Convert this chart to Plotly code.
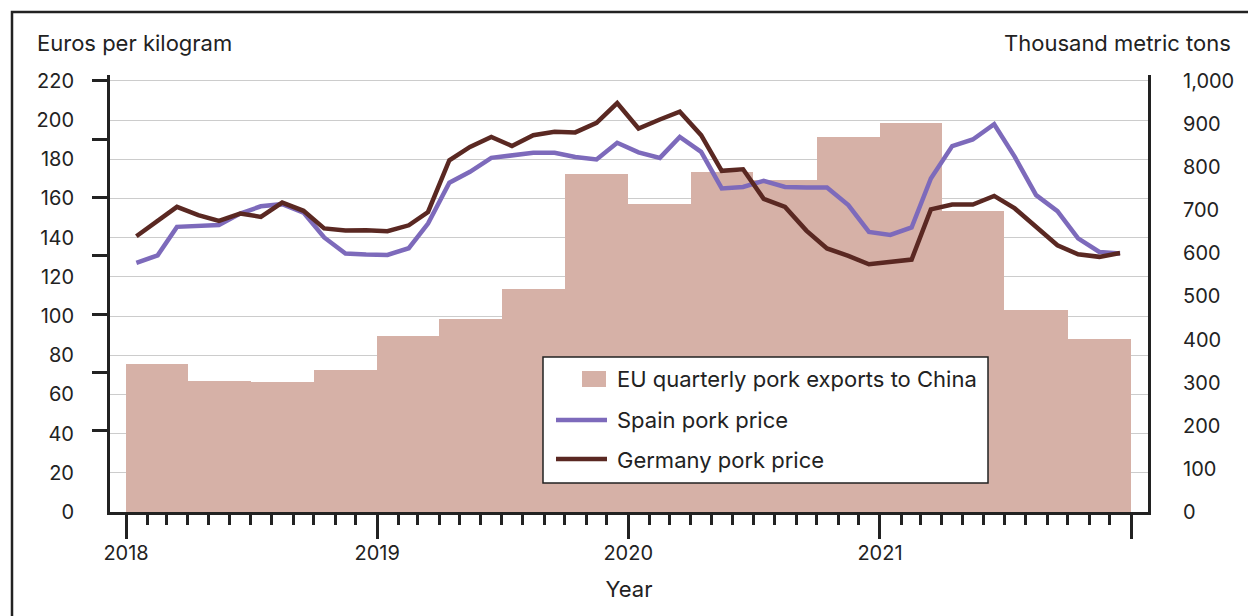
import pandas as pd
import plotly.graph_objects as go

# ---------------- data ----------------
month_dates = [f"{y}-{m:02d}-16" for y in range(2018, 2022) for m in range(1, 13)]

spain_price = [127.1, 131.0, 145.5, 146.2, 146.5, 152.3, 156.0, 157.1, 152.8, 140.1, 131.9, 131.4,
               131.2, 134.6, 147.2, 168.0, 173.6, 180.7, 182.2, 183.3, 183.3, 181.2, 179.9, 188.4,
               183.5, 180.7, 191.4, 183.8, 165.1, 165.9, 169.0, 165.9, 165.6, 165.6, 156.6, 142.9,
               141.4, 145.2, 170.2, 186.7, 190.1, 197.9, 181.2, 161.7, 153.5, 139.6, 132.7, 131.9]

germany_price = [140.7, 148.9, 155.7, 151.5, 148.5, 152.3, 150.6, 157.9, 153.7, 144.7, 143.6, 143.8,
                 143.3, 146.3, 153.1, 179.5, 186.3, 191.4, 186.8, 192.3, 194.0, 193.7, 198.6, 208.7,
                 195.7, 200.3, 204.3, 192.3, 174.1, 174.9, 159.8, 155.7, 143.6, 134.5, 130.7, 126.4,
                 127.4, 128.8, 154.4, 156.9, 156.9, 161.3, 154.9, 145.5, 136.1, 131.5, 130.2, 132.2]

quarter_starts = [f"{y}-{m:02d}-01" for y in range(2018, 2022) for m in (1, 4, 7, 10)]
eu_exports = [344, 305, 302, 330, 408, 447, 517, 783, 714, 788, 770, 869, 903, 698, 468, 401]

left_tick_labels = list(range(0, 221, 20))
left_tick_marks = [220, 190.2, 160.5, 130.7, 101.0, 71.2, 41.4]
right_tick_labels = list(range(0, 1001, 100))
year_ticks = ["2018-01-01", "2019-01-01", "2020-01-01", "2021-01-01", "2022-01-01"]
year_text = ["2018", "2019", "2020", "2021", ""]

series_names = ["EU quarterly pork exports to China", "Spain pork price", "Germany pork price"]

# ---------------- style ----------------
BAR_C = "#D6B1A7"
SPAIN_C = "#7D6ABB"
GER_C = "#5A2822"
INK = "#222222"
FONT = "Inter"
FS_TICK = 20
FS_TEXT = 22

L_MAX = 223.0
R_MAX = L_MAX * 1000 / 220

qs = pd.to_datetime(quarter_starts)
qe = qs + pd.DateOffset(months=3)
q_width = [(e - s).total_seconds() * 1000 for s, e in zip(qs, qe)]

fig = go.Figure()
fig.add_trace(go.Bar(x=quarter_starts, y=eu_exports, width=q_width, offset=0,
                     marker=dict(color=BAR_C, line=dict(width=0)),
                     name=series_names[0], yaxis="y", showlegend=False))
fig.add_trace(go.Scatter(x=month_dates, y=spain_price, mode="lines",
                         line=dict(color=SPAIN_C, width=4.5), name=series_names[1],
                         yaxis="y2", showlegend=False))
fig.add_trace(go.Scatter(x=month_dates, y=germany_price, mode="lines",
                         line=dict(color=GER_C, width=4.5), name=series_names[2],
                         yaxis="y2", showlegend=False))
# helper (empty) trace for unlabeled left tick marks
fig.add_trace(go.Scatter(x=[], y=[], yaxis="y3", showlegend=False, hoverinfo="skip"))

L, R, T, B = 110, 1148, 75, 512
W, H = R - L, B - T


def px(x):
    return (x - L) / W


def py(y):
    return (B - y) / H


shapes = [
    # outer frame
    dict(type="rect", xref="paper", yref="paper", x0=px(12), x1=2, y0=-1, y1=py(12),
         line=dict(color=INK, width=2.5), fillcolor="rgba(0,0,0,0)", layer="above"),
    # legend box
    dict(type="rect", xref="paper", yref="paper", x0=px(543), x1=px(988), y0=py(483), y1=py(357),
         line=dict(color=INK, width=1.5), fillcolor="white", layer="above"),
    dict(type="rect", xref="paper", yref="paper", x0=px(582), x1=px(606), y0=py(387), y1=py(371),
         line=dict(width=0), fillcolor=BAR_C, layer="above"),
    dict(type="line", xref="paper", yref="paper", x0=px(556), x1=px(607), y0=py(420), y1=py(420),
         line=dict(color=SPAIN_C, width=4.5), layer="above"),
    dict(type="line", xref="paper", yref="paper", x0=px(556), x1=px(607), y0=py(459), y1=py(459),
         line=dict(color=GER_C, width=4.5), layer="above"),
]

tfont = dict(family=FONT, size=FS_TEXT, color=INK)
annotations = [
    dict(text="Euros per kilogram", xref="paper", yref="paper", x=px(35), y=py(43),
         xanchor="left", yanchor="middle", showarrow=False, font=tfont),
    dict(text="Thousand metric tons", xref="paper", yref="paper", x=px(1233), y=py(43),
         xanchor="right", yanchor="middle", showarrow=False, font=tfont),
]
for name, yy in zip(series_names, [379, 420, 460]):
    annotations.append(dict(text=name, xref="paper", yref="paper", x=px(615), y=py(yy),
                            xanchor="left", yanchor="middle", showarrow=False, font=tfont))

fig.update_layout(
    width=1248, height=616,
    margin=dict(l=L, r=1248 - R, t=T, b=616 - B, autoexpand=False),
    paper_bgcolor="white", plot_bgcolor="white",
    font=dict(family=FONT, size=FS_TICK, color=INK),
    bargap=0,
    showlegend=False,
    shapes=shapes,
    annotations=annotations,
    xaxis=dict(
        type="date", range=["2017-12-08 16:00", "2022-01-25 16:00"],
        tickmode="array", tickvals=year_ticks, ticktext=year_text,
        ticks="outside", ticklen=24, tickwidth=3, tickcolor=INK,
        showline=True, linewidth=3, linecolor=INK, mirror=False,
        showgrid=False, zeroline=False, ticklabelstandoff=-3,
        minor=dict(tick0="2018-01-01", dtick="M1", ticks="outside", ticklen=10,
                   tickwidth=2.5, tickcolor=INK, showgrid=False),
        title=dict(text="Year", standoff=18, font=tfont),
        automargin=False,
    ),
    yaxis=dict(
        side="right", anchor="x", range=[0, R_MAX],
        tickmode="array", tickvals=right_tick_labels, tickformat=",",
        ticks="", showline=True, linewidth=3, linecolor=INK,
        showgrid=False, zeroline=False, ticklabelstandoff=28, automargin=False,
    ),
    yaxis2=dict(
        side="left", anchor="x", overlaying="y", range=[0, L_MAX],
        tickmode="array", tickvals=left_tick_labels,
        ticks="", showline=True, linewidth=3, linecolor=INK,
        showgrid=True, gridcolor="#CCCCCC", gridwidth=1.3, zeroline=False,
        ticklabelstandoff=29, automargin=False,
    ),
    yaxis3=dict(
        side="left", anchor="x", overlaying="y", range=[0, L_MAX],
        tickmode="array", tickvals=left_tick_marks, showticklabels=False,
        ticks="outside", ticklen=17, tickwidth=3, tickcolor=INK,
        showline=False, showgrid=False, zeroline=False, automargin=False,
    ),
)

fig.write_html("out.html", config={"displayModeBar": False},
               post_script="document.body.style.margin='0px';")
